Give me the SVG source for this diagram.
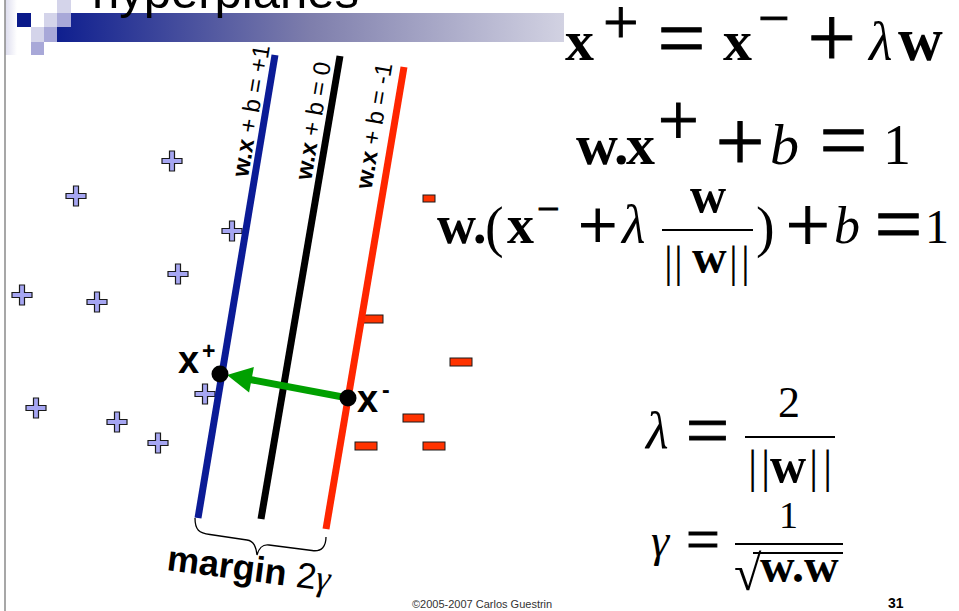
<svg xmlns="http://www.w3.org/2000/svg" width="959" height="611" viewBox="0 0 959 611">
<defs>
<linearGradient id="barGrad" x1="0" y1="0" x2="1" y2="0">
<stop offset="0" stop-color="#0f1f8f"/>
<stop offset="0.5" stop-color="#7e7eac"/>
<stop offset="1" stop-color="#d2d2e2"/>
</linearGradient>
<linearGradient id="edgeGrad" x1="0" y1="0" x2="1" y2="0">
<stop offset="0" stop-color="#dcdcee"/>
<stop offset="1" stop-color="#ffffff"/>
</linearGradient>
<path id="plus" d="M-2.5,-10 h5 v7.5 h7.5 v5 h-7.5 v7.5 h-5 v-7.5 h-7.5 v-5 h7.5 z"/>
</defs>
<style>
.pl{fill:#a6a6f2;stroke:#1a1a1a;stroke-width:1.2}
.mn{fill:#ff3300;stroke:#1a1a1a;stroke-width:1}
.hp{fill:none;stroke-width:7;stroke-linecap:butt}
.lab{font-family:"Liberation Sans",Arial,sans-serif;font-size:24px;fill:#000}
.m{font-family:"Liberation Serif","DejaVu Serif",serif;fill:#000}
.op{stroke:#000;stroke-width:0.9}
.b{font-weight:bold}
.i{font-style:italic}
.rule{stroke:#000;stroke-width:2}
</style>
<rect width="959" height="611" fill="#fff"/>
<g id="header">
<rect x="5" y="0" width="12" height="55" fill="url(#edgeGrad)"/>
<rect x="57" y="13" width="507" height="29" fill="url(#barGrad)"/>
<rect x="57" y="0" width="14" height="13" fill="#d4d4ea"/>
<rect x="17" y="13" width="14" height="14" fill="#0a1a8a"/>
<rect x="44" y="13" width="13" height="14" fill="#d4d4ea"/>
<rect x="57" y="13" width="14" height="14" fill="#a8a8d8"/>
<rect x="31" y="27" width="13" height="15" fill="#d4d4ea"/>
<rect x="44" y="27" width="13" height="15" fill="#a8a8d8"/>
<rect x="31" y="42" width="13" height="13" fill="#a8a8d8"/>
<line x1="5" y1="0" x2="5" y2="611" stroke="#8a8a8a" stroke-width="1.5"/>
<text x="92" y="8" font-family="Liberation Sans,Arial,sans-serif" font-size="49" fill="#000">hyperplanes</text>
</g>
<g id="negatives">
<rect class="mn" x="423" y="195" width="12" height="7"/>
<rect class="mn" x="363" y="315" width="20" height="8"/>
<rect class="mn" x="450" y="358" width="22" height="8"/>
<rect class="mn" x="403" y="414" width="21" height="8"/>
<rect class="mn" x="355" y="442" width="22" height="8"/>
<rect class="mn" x="423" y="442" width="22" height="8"/>
</g>
<g id="positives">
<use href="#plus" class="pl" x="172" y="161"/>
<use href="#plus" class="pl" x="76" y="196"/>
<use href="#plus" class="pl" x="232" y="231"/>
<use href="#plus" class="pl" x="178" y="274"/>
<use href="#plus" class="pl" x="22" y="295"/>
<use href="#plus" class="pl" x="97" y="302"/>
<use href="#plus" class="pl" x="205" y="394"/>
<use href="#plus" class="pl" x="36" y="408"/>
<use href="#plus" class="pl" x="117" y="422"/>
<use href="#plus" class="pl" x="158" y="443"/>
</g>
<g id="hyperplanes">
<g id="plane-pos">
<line class="hp" x1="275" y1="55" x2="198" y2="518" stroke="#0b1b96"/>
<text class="lab" transform="translate(259,112) rotate(-80.5)" text-anchor="middle"><tspan font-weight="bold">w.x</tspan> + b = +1</text>
</g>
<g id="plane-zero">
<line class="hp" x1="340" y1="56" x2="261" y2="519" stroke="#000"/>
<text class="lab" transform="translate(321,122) rotate(-80.5)" text-anchor="middle"><tspan font-weight="bold">w.x</tspan> + b = 0</text>
</g>
<g id="plane-neg">
<line class="hp" x1="404" y1="67" x2="326" y2="529" stroke="#ff2600"/>
<text class="lab" transform="translate(382,127) rotate(-80.5)" text-anchor="middle"><tspan font-weight="bold">w.x</tspan> + b = -1</text>
</g>
</g>
<g id="connectors">
<line x1="348" y1="398" x2="250" y2="379.5" stroke="#00a000" stroke-width="7"/>
<polygon points="227,375 253.9,366.9 249.1,392.5" fill="#00a000"/>
<path d="M195,518 C195,530 199,533 210,534.5 L247,540 C254,541 256,547 257,555 C259,548 262,544 269,545 L312,550.5 C322,552 326,546 326,537" fill="none" stroke="#000" stroke-width="1.3"/>
</g>
<g id="x-plus">
<circle cx="220" cy="374" r="8.5" fill="#000"/>
<text x="178" y="373" font-family="Liberation Sans,Arial,sans-serif" font-weight="bold" font-size="38">x</text>
<text x="202" y="359" font-family="Liberation Sans,Arial,sans-serif" font-weight="bold" font-size="23">+</text>
</g>
<g id="x-minus">
<circle cx="348" cy="398" r="8.5" fill="#000"/>
<text x="357" y="412" font-family="Liberation Sans,Arial,sans-serif" font-weight="bold" font-size="38">x</text>
<text x="382" y="398" font-family="Liberation Sans,Arial,sans-serif" font-weight="bold" font-size="23">-</text>
</g>
<g id="margin">
<text transform="translate(166,570) rotate(7.4)" font-family="Liberation Sans,Arial,sans-serif" font-size="36" font-weight="bold">margin<tspan font-weight="normal"> 2</tspan><tspan font-weight="normal" font-family="Liberation Serif,serif" font-style="italic">γ</tspan></text>
</g>
<g id="eq1">
<text class="m b" x="565" y="60" font-size="58">x</text>
<text class="m op" x="603" y="43.5" font-size="63">+</text>
<text class="m op" x="657.5" y="67" font-size="85">=</text>
<text class="m b" x="723" y="60" font-size="58">x</text>
<text class="m op" x="758" y="37" font-size="56">−</text>
<text class="m op" x="807.4" y="67.3" font-size="86">+</text>
<text class="m i" x="869" y="60" font-size="54">λ</text>
<text class="m b" x="898" y="60" font-size="62">w</text>
</g>
<g id="eq2">
<text class="m b" x="576" y="164" font-size="58">w</text>
<text class="m b" x="614" y="164" font-size="58">.</text>
<text class="m b" x="626" y="164" font-size="58">x</text>
<text class="m op" x="657.8" y="145" font-size="73">+</text>
<text class="m op" x="715.4" y="171" font-size="87">+</text>
<text class="m i" x="770" y="164" font-size="58">b</text>
<text class="m op" x="819.5" y="169" font-size="85">=</text>
<text class="m" x="883" y="164" font-size="56">1</text>
</g>
<g id="eq3">
<text class="m b" x="437" y="243" font-size="54">w</text>
<text class="m b" x="473" y="243" font-size="54">.</text>
<text class="m" x="485" y="246" font-size="56">(</text>
<text class="m b" x="507" y="243" font-size="54">x</text>
<text class="m op" x="537" y="222" font-size="40">−</text>
<text class="m op" x="578" y="249" font-size="70">+</text>
<text class="m i" x="622" y="243" font-size="54">λ</text>
<line class="rule" x1="662" y1="230" x2="753" y2="230"/>
<text class="m b" x="690" y="212" font-size="50">w</text>
<text class="m" x="664" y="277" font-size="44">|</text>
<text class="m" x="674" y="277" font-size="44">|</text>
<text class="m b" x="692" y="273" font-size="48">w</text>
<text class="m" x="729" y="277" font-size="44">|</text>
<text class="m" x="741" y="277" font-size="44">|</text>
<text class="m" x="756" y="246" font-size="56">)</text>
<text class="m op" x="785.6" y="251" font-size="79">+</text>
<text class="m i" x="834" y="243" font-size="52">b</text>
<text class="m op" x="874.5" y="252.5" font-size="85">=</text>
<text class="m" x="925" y="243" font-size="48">1</text>
</g>
<g id="eq4">
<text class="m i" x="646" y="448" font-size="52">λ</text>
<text class="m op" x="685.7" y="456" font-size="77">=</text>
<line class="rule" x1="745" y1="437" x2="835" y2="437"/>
<text class="m" x="778" y="417" font-size="44">2</text>
<text class="m" x="748" y="482" font-size="46">|</text>
<text class="m" x="761" y="482" font-size="46">|</text>
<text class="m b" x="770" y="482" font-size="50">w</text>
<text class="m" x="809" y="482" font-size="46">|</text>
<text class="m" x="823" y="482" font-size="46">|</text>
</g>
<g id="eq5">
<text class="m i" x="651" y="556" font-size="46">γ</text>
<text class="m op" x="686" y="558.7" font-size="60">=</text>
<line class="rule" x1="735" y1="544" x2="843" y2="544"/>
<text class="m" x="779" y="528" font-size="38">1</text>
<text class="m" x="734" y="590" font-size="50">√</text>
<line class="rule" x1="753" y1="553" x2="843" y2="553"/>
<text class="m b" x="760" y="582" font-size="48">w.w</text>
</g>
<g id="footer">
<text x="412" y="608" font-family="Liberation Sans,Arial,sans-serif" font-size="11" fill="#333">©2005-2007 Carlos Guestrin</text>
<text x="888" y="608" font-family="Liberation Sans,Arial,sans-serif" font-size="14" font-weight="bold">31</text>
</g>
</svg>
